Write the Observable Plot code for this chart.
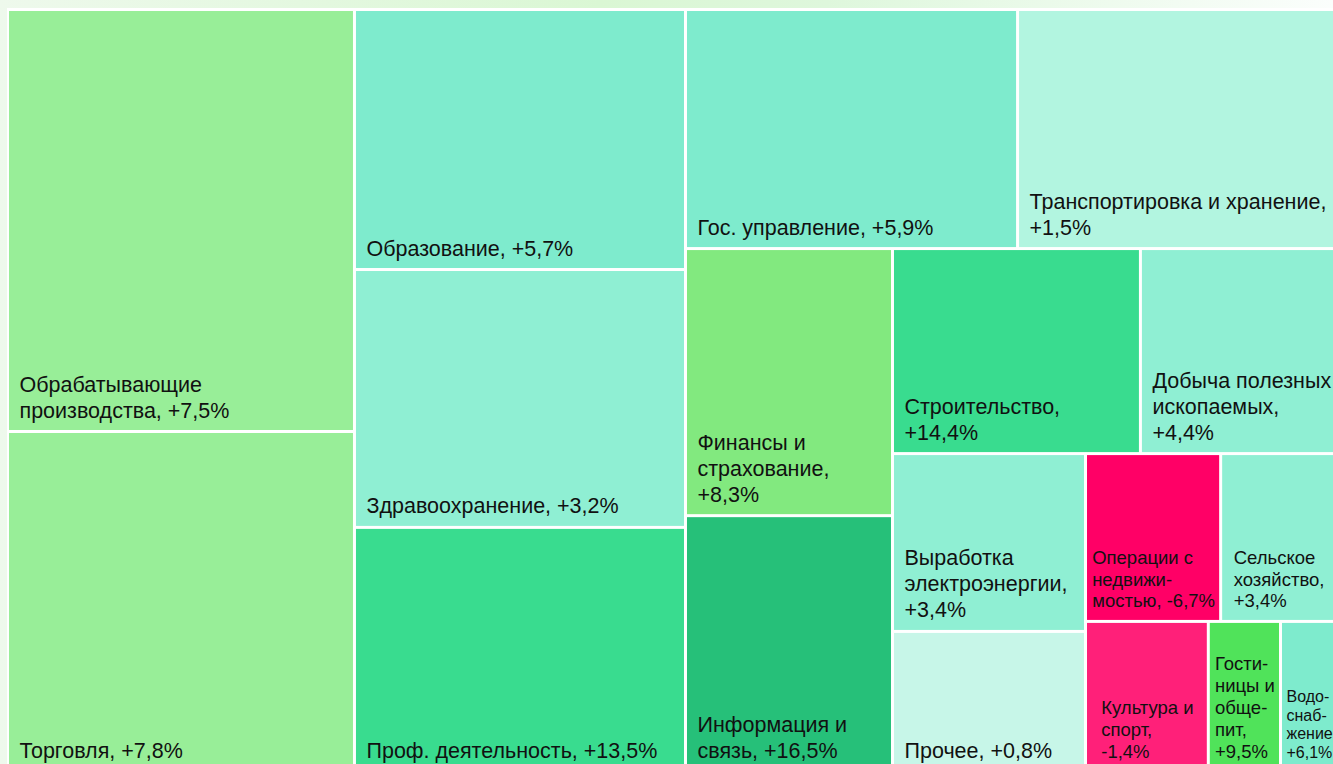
<!DOCTYPE html>
<html>
<head>
<meta charset="utf-8">
<script src="https://cdn.jsdelivr.net/npm/d3@7"></script>
<script src="https://cdn.jsdelivr.net/npm/@observablehq/plot@0.6"></script>
<style>
html, body { margin: 0; padding: 0; width: 1333px; height: 764px; overflow: hidden; }
body {
  position: relative;
  background: linear-gradient(90deg, #eef9ec 0%, #daf7d4 45%, #def7dc 62%, #fbfefc 100%);
  font-family: "Liberation Sans", Arial, sans-serif;
}
#panel { position: absolute; left: 7px; top: 8px; width: 1400px; height: 800px; background: #ffffff; }
#chart { position: absolute; left: 0; top: 0; }
</style>
</head>
<body>
<div id="panel"></div>
<div id="chart"></div>
<script>
// Sectors (ordered by share, descending)
const sectors = [
  "Обрабатывающие производства", "Торговля", "Образование", "Здравоохранение",
  "Проф. деятельность", "Гос. управление", "Транспортировка и хранение",
  "Финансы и страхование", "Информация и связь", "Строительство",
  "Добыча полезных ископаемых", "Выработка электроэнергии", "Прочее",
  "Операции с недвижимостью", "Сельское хозяйство", "Культура и спорт",
  "Гостиницы и общепит", "Водоснабжение"
];
// Displayed label text (with line breaks), growth value appended
const labels = [
  "Обрабатывающие\nпроизводства, ", "Торговля, ", "Образование, ", "Здравоохранение, ",
  "Проф. деятельность, ", "Гос. управление, ", "Транспортировка и хранение,\n",
  "Финансы и\nстрахование,\n", "Информация и\nсвязь, ", "Строительство,\n",
  "Добыча полезных\nископаемых,\n", "Выработка\nэлектроэнергии,\n", "Прочее, ",
  "Операции с\nнедвижи-\nмостью, ", "Сельское\nхозяйство,\n", "Культура и\nспорт,\n",
  "Гости-\nницы и\nобще-\nпит,\n", "Водо-\nснаб-\nжение\n"
];
// Share (size of each cell), %
const shares = [14.46, 11.65, 8.50, 8.43, 7.98, 7.84, 7.53, 5.46, 5.23, 5.02, 3.97, 3.39, 2.67, 2.24, 1.92, 1.82, 1.07, 0.83];
// Growth, %
const growth = [7.5, 7.8, 5.7, 3.2, 13.5, 5.9, 1.5, 8.3, 16.5, 14.4, 4.4, 3.4, 0.8, -6.7, 3.4, -1.4, 9.5, 6.1];

// Treemap row structure: number of items per strip and its orientation
const rowSizes = [2, 3, 2, 2, 2, 2, 2, 3];
const rowOrient = ["v", "v", "h", "v", "h", "v", "h", "h"];

// Colour thresholds for growth
const thresholds = [-5, 0, 1, 3, 5, 7, 8, 9, 12, 15];
const palette = ["#ff0066", "#ff2079", "#c7f6e8", "#b2f5e0", "#8fefd3", "#7eebcd", "#98ee98", "#82e97f", "#50e35a", "#39dc8f", "#26c079"];

const W = 1333, H = 764;
const origin = [9, 11];
const size = [1326, 759];

const fmt = g => (g > 0 ? "+" : "") + g.toFixed(1).replace(".", ",") + "%";

const root = d3.hierarchy({
  children: sectors.map((s, i) => ({name: s, label: labels[i], share: shares[i], growth: growth[i]}))
}).sum(d => d.share || 0);

function tile(parent, x0, y0, x1, y1) {
  const nodes = parent.children;
  let remaining = parent.value, i = 0;
  rowSizes.forEach((k, r) => {
    const row = nodes.slice(i, i + k); i += k;
    if (!row.length) return;
    const rv = d3.sum(row, n => n.value);
    if (rowOrient[r] === "v") {
      const xm = x0 + (x1 - x0) * rv / remaining;
      let y = y0;
      for (const n of row) { n.x0 = x0; n.x1 = xm; n.y0 = y; y += (y1 - y0) * n.value / rv; n.y1 = y; }
      x0 = xm;
    } else {
      const ym = y0 + (y1 - y0) * rv / remaining;
      let x = x0;
      for (const n of row) { n.y0 = y0; n.y1 = ym; n.x0 = x; x += (x1 - x0) * n.value / rv; n.x1 = x; }
      y0 = ym;
    }
    remaining -= rv;
  });
}

d3.treemap().tile(tile).size(size).paddingInner(3)(root);

const ctx = document.createElement("canvas").getContext("2d");
function blockWidth(text, fs) {
  ctx.font = `${fs}px "Liberation Sans", Arial, sans-serif`;
  return d3.max(text.split("\n"), l => ctx.measureText(l).width);
}

const BIG = 21.5, SMALL = 18.5, TINY = 16;
const cells = root.leaves().map(n => {
  const c = {...n.data,
    x1: origin[0] + n.x0, x2: origin[0] + n.x1,
    y1: origin[1] + n.y0, y2: origin[1] + n.y1};
  const w = c.x2 - c.x1;
  c.fs = w >= 150 ? BIG : w >= 60 ? SMALL : TINY;
  c.text = c.label + fmt(c.growth);
  const bw = blockWidth(c.text, c.fs);
  c.tx = c.x1 + (c.fs === BIG ? 10 : Math.max(4, (w - bw) / 2));
  c.ty = c.y2 - 13;
  return c;
});

const textOpts = (fs, lh) => ({
  x: "tx", y: "ty", text: "text", fontSize: fs, lineHeight: lh,
  textAnchor: "start", lineAnchor: "bottom", fill: "#111111"
});

const chart = Plot.plot({
  width: W, height: H, margin: 0,
  style: {background: "transparent", fontFamily: '"Liberation Sans", Arial, sans-serif'},
  x: {type: "identity", axis: null},
  y: {type: "identity", axis: null},
  color: {type: "threshold", domain: thresholds, range: palette},
  marks: [
    Plot.rect(cells, {x1: "x1", x2: "x2", y1: "y1", y2: "y2", fill: "growth"}),
    Plot.text(cells.filter(d => d.fs === BIG), textOpts(BIG, 1.21)),
    Plot.text(cells.filter(d => d.fs === SMALL), textOpts(SMALL, 1.18)),
    Plot.text(cells.filter(d => d.fs === TINY), textOpts(TINY, 1.15))
  ]
});
document.getElementById("chart").appendChild(chart);
</script>
</body>
</html>
